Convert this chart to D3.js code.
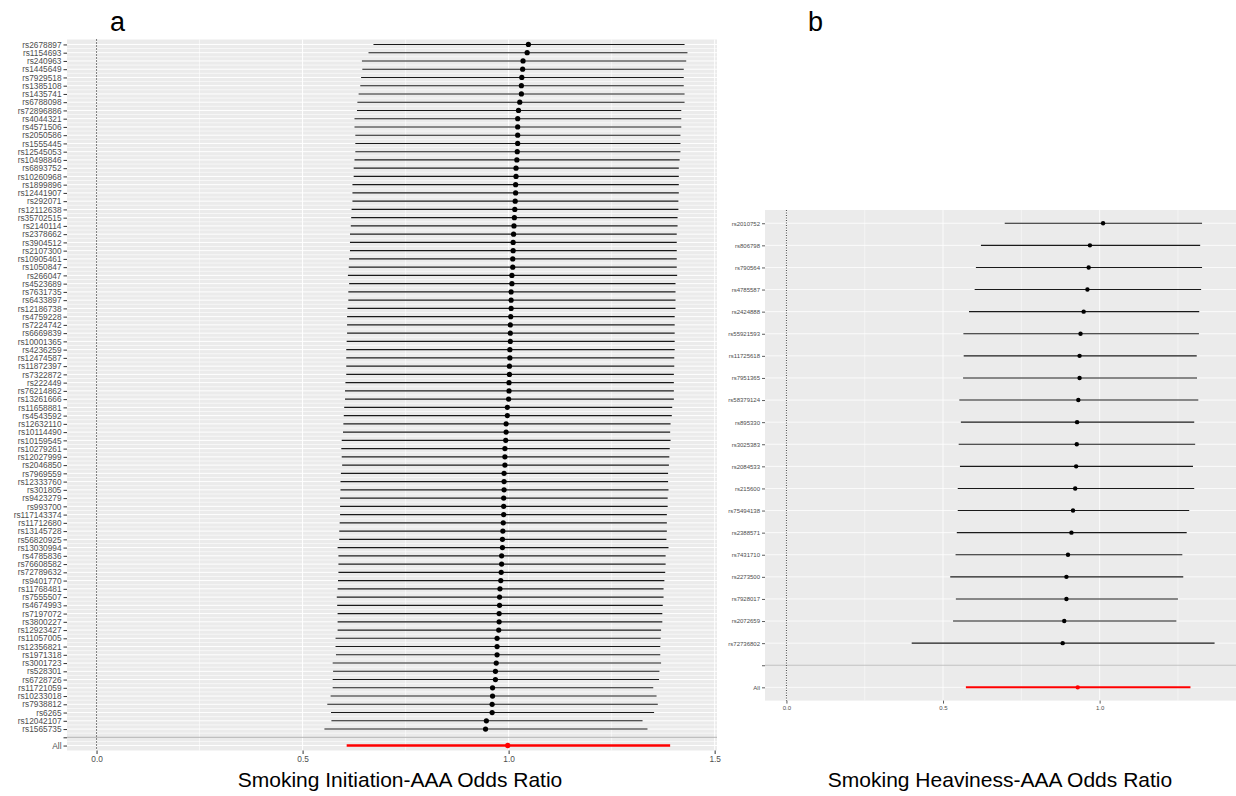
<!DOCTYPE html>
<html>
<head>
<meta charset="utf-8">
<script src="https://cdn.jsdelivr.net/npm/d3@7"></script>
<style>
  body { margin: 0; background: #fff; }
  svg { display: block; font-family: "Liberation Sans", Arial, sans-serif; }
</style>
</head>
<body>
<div id="chart"></div>
<script>
// panel a : smoking initiation
var snpsA = ["rs2678897","rs1154693","rs240963","rs1445649","rs7929518","rs1385108","rs1435741","rs6788098","rs72896886","rs4044321",
    "rs4571506","rs2050586","rs1555445","rs12545053","rs10498846","rs6893752","rs10260968","rs1899896","rs12441907","rs292071",
    "rs12112638","rs35702515","rs2140114","rs2378662","rs3904512","rs2107300","rs10905461","rs1050847","rs266047","rs4523689",
    "rs7631735","rs6433897","rs12186738","rs4759228","rs7224742","rs6669839","rs10001365","rs4236259","rs12474587","rs11872397",
    "rs7322872","rs222449","rs76214862","rs13261666","rs11658881","rs4543592","rs12632110","rs10114490","rs10159545","rs10279261",
    "rs12027999","rs2046850","rs7969559","rs12333760","rs301805","rs9423279","rs993700","rs117143374","rs11712680","rs13145728",
    "rs56820925","rs13030994","rs4785836","rs76608582","rs72789632","rs9401770","rs11768481","rs7555507","rs4674993","rs7197072",
    "rs3800227","rs12923427","rs11057005","rs12356821","rs1971318","rs3001723","rs528301","rs6728726","rs11721059","rs10233018",
    "rs7938812","rs6265","rs12042107","rs1565735"];
var orA = [1.048,1.045,1.035,1.034,1.032,1.031,1.031,1.027,1.024,1.022,
    1.022,1.022,1.022,1.021,1.020,1.018,1.018,1.017,1.017,1.016,
    1.015,1.014,1.013,1.012,1.011,1.011,1.010,1.010,1.008,1.008,
    1.006,1.006,1.006,1.005,1.004,1.004,1.004,1.003,1.003,1.002,
    1.002,1.001,1.001,1.000,0.997,0.997,0.994,0.994,0.993,0.991,
    0.991,0.991,0.989,0.989,0.989,0.988,0.988,0.988,0.987,0.986,
    0.985,0.985,0.983,0.983,0.982,0.981,0.979,0.978,0.978,0.977,
    0.977,0.976,0.972,0.972,0.972,0.970,0.968,0.968,0.961,0.961,
    0.960,0.960,0.946,0.944];
var loA = [0.672,0.660,0.644,0.645,0.642,0.640,0.636,0.633,0.632,0.626,
    0.626,0.628,0.628,0.628,0.626,0.624,0.624,0.621,0.621,0.621,
    0.619,0.618,0.617,0.615,0.615,0.615,0.613,0.612,0.610,0.613,
    0.611,0.611,0.609,0.608,0.608,0.608,0.607,0.606,0.606,0.606,
    0.606,0.604,0.603,0.603,0.601,0.600,0.599,0.598,0.595,0.594,
    0.595,0.596,0.593,0.592,0.592,0.591,0.591,0.591,0.590,0.589,
    0.589,0.585,0.587,0.587,0.587,0.586,0.585,0.583,0.584,0.585,
    0.585,0.585,0.580,0.580,0.581,0.573,0.574,0.573,0.573,0.568,
    0.560,0.569,0.570,0.553];
var hiA = [1.427,1.434,1.431,1.425,1.425,1.425,1.427,1.427,1.419,1.419,
    1.419,1.417,1.417,1.417,1.415,1.413,1.413,1.413,1.413,1.412,
    1.412,1.410,1.410,1.408,1.408,1.408,1.408,1.408,1.409,1.405,
    1.405,1.405,1.405,1.403,1.403,1.403,1.403,1.403,1.402,1.402,
    1.401,1.401,1.401,1.401,1.397,1.396,1.393,1.392,1.393,1.391,
    1.390,1.389,1.387,1.387,1.388,1.386,1.386,1.384,1.384,1.384,
    1.383,1.388,1.381,1.381,1.380,1.378,1.376,1.376,1.374,1.373,
    1.373,1.370,1.369,1.368,1.368,1.370,1.366,1.365,1.351,1.359,
    1.362,1.353,1.325,1.337];
var allA = {lo: 0.607, or: 0.998, hi: 1.392};
var ticksA = [0, 0.5, 1.0, 1.5];

// panel b : smoking heaviness
var snpsB = ["rs2010752","rs806798","rs790564","rs4785587","rs2424888","rs55921593","rs11725618","rs7951365","rs58379124","rs895330",
    "rs3025383","rs2084533","rs215600","rs75494138","rs2388571","rs7431710","rs2273500","rs7928017","rs2072659","rs72736802"];
var orB = [1.011,0.969,0.965,0.961,0.949,0.939,0.936,0.936,0.932,0.928,
    0.927,0.925,0.922,0.915,0.910,0.899,0.894,0.894,0.887,0.882];
var loB = [0.697,0.621,0.605,0.601,0.583,0.565,0.566,0.564,0.552,0.557,
    0.550,0.554,0.547,0.547,0.544,0.540,0.523,0.541,0.532,0.400];
var hiB = [1.327,1.321,1.327,1.324,1.318,1.317,1.310,1.311,1.315,1.302,
    1.305,1.298,1.302,1.286,1.278,1.264,1.267,1.250,1.245,1.367];
var allB = {lo: 0.573, or: 0.930, hi: 1.290};
var ticksB = [0, 0.5, 1.0];

var svg = d3.select("#chart").append("svg")
    .attr("width", 1236)
    .attr("height", 796);

function drawPanel(o) {
    var rows = o.snps.map(function(s, i) { return {name: s, or: o.or[i], lo: o.lo[i], hi: o.hi[i]}; });
    var cats = o.snps.concat([" ", "All"]);

    var x = d3.scaleLinear().domain(o.xdom).range([o.left, o.right]);
    var y = d3.scalePoint().domain(cats).range([o.top, o.bottom]).padding(0.6);
    var step = y.step();

    var g = svg.append("g");

    g.append("rect")
        .attr("x", o.left).attr("y", o.top)
        .attr("width", o.right - o.left).attr("height", o.bottom - o.top)
        .style("fill", "#ebebeb");

    // minor grid (x)
    g.selectAll(".vminor")
        .data(o.minor)
        .enter().append("line")
        .attr("x1", function(d) { return x(d); }).attr("x2", function(d) { return x(d); })
        .attr("y1", o.top).attr("y2", o.bottom)
        .style("stroke", "#fff").style("stroke-width", o.gridW * 0.6);

    if (o.halfRows) {
        g.selectAll(".hminor")
            .data(cats.slice(0, -1))
            .enter().append("line")
            .attr("x1", o.left).attr("x2", o.right)
            .attr("y1", function(d) { return y(d) + step / 2; })
            .attr("y2", function(d) { return y(d) + step / 2; })
            .style("stroke", "#fff").style("stroke-width", o.gridW * 0.6);
    }

    g.selectAll(".vmajor")
        .data(o.ticks)
        .enter().append("line")
        .attr("x1", function(d) { return x(d); }).attr("x2", function(d) { return x(d); })
        .attr("y1", o.top).attr("y2", o.bottom)
        .style("stroke", "#fff").style("stroke-width", o.gridW);

    g.selectAll(".hmajor")
        .data(cats.filter(function(d) { return d !== " "; }))
        .enter().append("line")
        .attr("x1", o.left).attr("x2", o.right)
        .attr("y1", function(d) { return y(d); }).attr("y2", function(d) { return y(d); })
        .style("stroke", "#fff").style("stroke-width", o.gridW);

    // separator before the pooled estimate
    g.append("line")
        .attr("x1", o.left).attr("x2", o.right)
        .attr("y1", y(" ")).attr("y2", y(" "))
        .style("stroke", "#b5b5b5").style("stroke-width", o.gridW);

    // reference line at zero
    g.append("line")
        .attr("x1", x(0)).attr("x2", x(0))
        .attr("y1", o.top).attr("y2", o.bottom)
        .style("stroke", o.dotCol).style("stroke-width", 1)
        .style("stroke-dasharray", o.dash);

    g.selectAll(".ci")
        .data(rows)
        .enter().append("line")
        .attr("x1", function(d) { return x(d.lo); })
        .attr("x2", function(d) { return x(d.hi); })
        .attr("y1", function(d) { return y(d.name); })
        .attr("y2", function(d) { return y(d.name); })
        .style("stroke", "#1a1a1a").style("stroke-width", o.lineW);

    g.selectAll(".pt")
        .data(rows)
        .enter().append("circle")
        .attr("cx", function(d) { return x(d.or); })
        .attr("cy", function(d) { return y(d.name); })
        .attr("r", o.r)
        .style("fill", "#000");

    g.append("line")
        .attr("x1", x(o.all.lo)).attr("x2", x(o.all.hi))
        .attr("y1", y("All")).attr("y2", y("All"))
        .style("stroke", "#ff0000").style("stroke-width", o.allW);
    g.append("circle")
        .attr("cx", x(o.all.or)).attr("cy", y("All"))
        .attr("r", o.allR)
        .style("fill", "#ff0000");

    // axes
    var yAxis = d3.axisLeft(y).tickSize(o.tick).tickPadding(2);
    var ya = g.append("g")
        .attr("transform", "translate(" + o.left + ",0)")
        .call(yAxis);
    ya.select(".domain").remove();
    ya.selectAll("line").style("stroke", "#333").style("stroke-width", o.gridW);
    ya.selectAll("text").attr("fill", "#4d4d4d").style("fill", "#4d4d4d").style("font-size", o.fs + "px");

    var xAxis = d3.axisBottom(x).tickValues(o.ticks).tickFormat(d3.format(".1f")).tickSize(o.tick).tickPadding(2);
    var xa = g.append("g")
        .attr("transform", "translate(0," + o.bottom + ")")
        .call(xAxis);
    xa.select(".domain").remove();
    xa.selectAll("line").style("stroke", "#333").style("stroke-width", o.gridW);
    xa.selectAll("text").style("fill", "#4d4d4d").style("font-size", o.fs + "px");

    svg.append("text")
        .attr("x", o.titleX).attr("y", 787)
        .attr("text-anchor", "middle")
        .style("font-size", "21px")
        .style("fill", "#000")
        .text(o.title);

    svg.append("text")
        .attr("x", o.tagX).attr("y", 31)
        .style("font-size", "27px")
        .style("fill", "#000")
        .text(o.tag);
}

drawPanel({
    snps: snpsA, or: orA, lo: loA, hi: hiA, all: allA,
    xdom: [-0.0717, 1.5057], left: 67, right: 717, top: 39.5, bottom: 750.5,
    ticks: ticksA, minor: [0.25, 0.75, 1.25], halfRows: true,
    gridW: 1, lineW: 1.1, r: 2.6, allW: 2.6, allR: 2.7,
    dotCol: "#000", dash: "1,2", tick: 3.5, fs: 8.3,
    title: "Smoking Initiation-AAA Odds Ratio", titleX: 400, tag: "a", tagX: 110
});

drawPanel({
    snps: snpsB, or: orB, lo: loB, hi: hiB, all: allB,
    xdom: [-0.0684, 1.4354], left: 765, right: 1236, top: 210, bottom: 700.6,
    ticks: ticksB, minor: [0.25, 0.75, 1.25], halfRows: false,
    gridW: 0.8, lineW: 1.1, r: 2.2, allW: 2, allR: 2.2,
    dotCol: "#444", dash: "1,1.5", tick: 3, fs: 6,
    title: "Smoking Heaviness-AAA Odds Ratio", titleX: 1000, tag: "b", tagX: 808
});
</script>
</body>
</html>
